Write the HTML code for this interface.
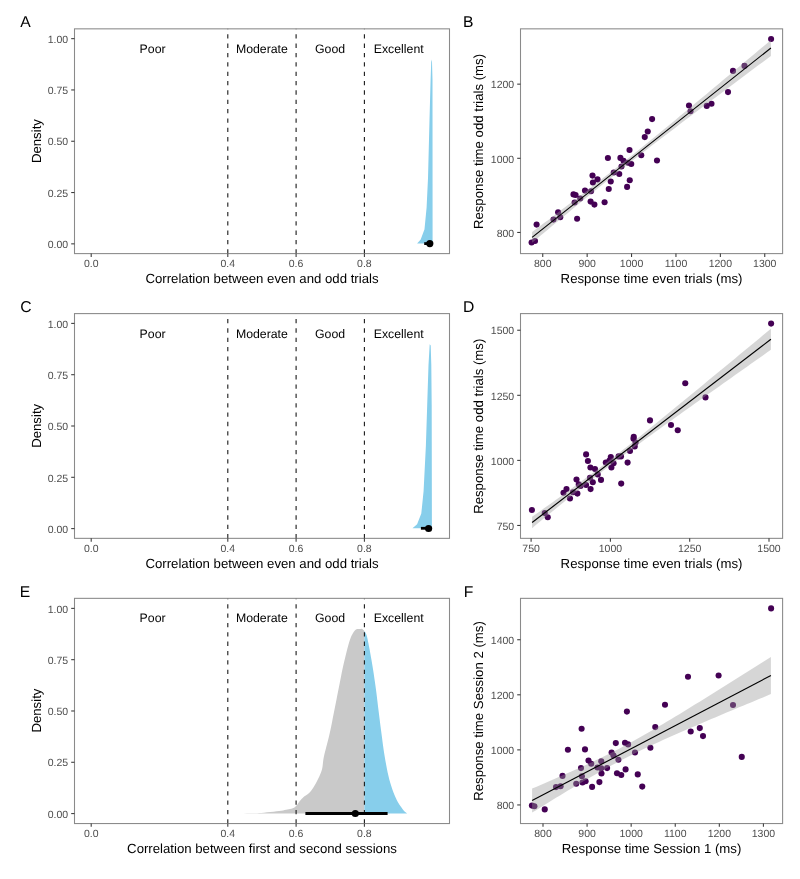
<!DOCTYPE html>
<html><head><meta charset="utf-8"><style>
html,body{margin:0;padding:0;background:#fff;}
svg{display:block;filter:blur(0.35px);}
text{font-family:"Liberation Sans", sans-serif;text-rendering:geometricPrecision;}
</style></head><body>
<svg width="800" height="879" viewBox="0 0 800 879">
<rect width="800" height="879" fill="#fff"/>
<text x="20.30" y="26.70" font-size="15.7" fill="#000" text-anchor="start" >A</text>
<text x="463.10" y="26.80" font-size="15.7" fill="#000" text-anchor="start" >B</text>
<text x="20.20" y="312.00" font-size="15.7" fill="#000" text-anchor="start" >C</text>
<text x="462.90" y="311.60" font-size="15.7" fill="#000" text-anchor="start" >D</text>
<text x="19.80" y="596.90" font-size="15.7" fill="#000" text-anchor="start" >E</text>
<text x="463.80" y="596.60" font-size="15.7" fill="#000" text-anchor="start" >F</text>
<polygon points="417.10,243.40 420.70,239.50 424.50,229.30 426.60,207.50 428.00,178.30 429.50,120.00 430.60,80.00 431.30,59.50 432.00,62.00 432.50,80.00 432.60,243.40" fill="#87ceeb"/>
<line x1="227.80" y1="253.60" x2="227.80" y2="28.85" stroke="#1a1a1a" stroke-width="1.1" stroke-dasharray="4.3 5.05"/>
<line x1="296.10" y1="253.60" x2="296.10" y2="28.85" stroke="#1a1a1a" stroke-width="1.1" stroke-dasharray="4.3 5.05"/>
<line x1="364.40" y1="253.60" x2="364.40" y2="28.85" stroke="#1a1a1a" stroke-width="1.1" stroke-dasharray="4.3 5.05"/>
<line x1="424.2" y1="243.6" x2="429.8" y2="243.6" stroke="#000" stroke-width="2.8"/><circle cx="429.8" cy="243.6" r="3.6" fill="#000"/>
<text x="152.60" y="52.90" font-size="12.3" fill="#000" text-anchor="middle" >Poor</text>
<text x="261.90" y="52.90" font-size="12.3" fill="#000" text-anchor="middle" >Moderate</text>
<text x="330.10" y="52.90" font-size="12.3" fill="#000" text-anchor="middle" >Good</text>
<text x="398.70" y="52.90" font-size="12.3" fill="#000" text-anchor="middle" >Excellent</text>
<rect x="74.5" y="28.85" width="375" height="224.75" fill="none" stroke="#8a8a8a" stroke-width="1.07"/>
<line x1="71.2" y1="243.85" x2="74.5" y2="243.85" stroke="#3a3a3a" stroke-width="1.07"/>
<text x="68.20" y="248.05" font-size="10.5" fill="#4d4d4d" text-anchor="end" >0.00</text>
<line x1="71.2" y1="192.55" x2="74.5" y2="192.55" stroke="#3a3a3a" stroke-width="1.07"/>
<text x="68.20" y="196.75" font-size="10.5" fill="#4d4d4d" text-anchor="end" >0.25</text>
<line x1="71.2" y1="141.25" x2="74.5" y2="141.25" stroke="#3a3a3a" stroke-width="1.07"/>
<text x="68.20" y="145.45" font-size="10.5" fill="#4d4d4d" text-anchor="end" >0.50</text>
<line x1="71.2" y1="89.95" x2="74.5" y2="89.95" stroke="#3a3a3a" stroke-width="1.07"/>
<text x="68.20" y="94.15" font-size="10.5" fill="#4d4d4d" text-anchor="end" >0.75</text>
<line x1="71.2" y1="38.65" x2="74.5" y2="38.65" stroke="#3a3a3a" stroke-width="1.07"/>
<text x="68.20" y="42.85" font-size="10.5" fill="#4d4d4d" text-anchor="end" >1.00</text>
<line x1="91.20" y1="253.60" x2="91.20" y2="256.90" stroke="#3a3a3a" stroke-width="1.07"/>
<text x="91.20" y="267.45" font-size="10.5" fill="#4d4d4d" text-anchor="middle" >0.0</text>
<line x1="227.80" y1="253.60" x2="227.80" y2="256.90" stroke="#3a3a3a" stroke-width="1.07"/>
<text x="227.80" y="267.45" font-size="10.5" fill="#4d4d4d" text-anchor="middle" >0.4</text>
<line x1="296.10" y1="253.60" x2="296.10" y2="256.90" stroke="#3a3a3a" stroke-width="1.07"/>
<text x="296.10" y="267.45" font-size="10.5" fill="#4d4d4d" text-anchor="middle" >0.6</text>
<line x1="364.40" y1="253.60" x2="364.40" y2="256.90" stroke="#3a3a3a" stroke-width="1.07"/>
<text x="364.40" y="267.45" font-size="10.5" fill="#4d4d4d" text-anchor="middle" >0.8</text>
<text x="262.00" y="282.90" font-size="13.2" fill="#000" text-anchor="middle" >Correlation between even and odd trials</text>
<text x="0" y="0" font-size="13.2" text-anchor="middle" transform="translate(40.85 141.10) rotate(-90)">Density</text>
<polygon points="412.50,528.20 417.10,524.20 421.30,513.60 423.60,490.90 425.90,445.50 427.20,405.00 428.50,365.00 429.70,344.20 430.70,345.50 431.30,365.00 431.70,405.00 431.90,528.20" fill="#87ceeb"/>
<line x1="227.80" y1="538.35" x2="227.80" y2="313.60" stroke="#1a1a1a" stroke-width="1.1" stroke-dasharray="4.3 5.05"/>
<line x1="296.10" y1="538.35" x2="296.10" y2="313.60" stroke="#1a1a1a" stroke-width="1.1" stroke-dasharray="4.3 5.05"/>
<line x1="364.40" y1="538.35" x2="364.40" y2="313.60" stroke="#1a1a1a" stroke-width="1.1" stroke-dasharray="4.3 5.05"/>
<line x1="420.9" y1="528.3" x2="428.6" y2="528.3" stroke="#000" stroke-width="2.8"/><circle cx="428.6" cy="528.5" r="3.6" fill="#000"/>
<text x="152.60" y="337.65" font-size="12.3" fill="#000" text-anchor="middle" >Poor</text>
<text x="261.90" y="337.65" font-size="12.3" fill="#000" text-anchor="middle" >Moderate</text>
<text x="330.10" y="337.65" font-size="12.3" fill="#000" text-anchor="middle" >Good</text>
<text x="398.70" y="337.65" font-size="12.3" fill="#000" text-anchor="middle" >Excellent</text>
<rect x="74.5" y="313.60" width="375" height="224.75" fill="none" stroke="#8a8a8a" stroke-width="1.07"/>
<line x1="71.2" y1="528.60" x2="74.5" y2="528.60" stroke="#3a3a3a" stroke-width="1.07"/>
<text x="68.20" y="532.80" font-size="10.5" fill="#4d4d4d" text-anchor="end" >0.00</text>
<line x1="71.2" y1="477.30" x2="74.5" y2="477.30" stroke="#3a3a3a" stroke-width="1.07"/>
<text x="68.20" y="481.50" font-size="10.5" fill="#4d4d4d" text-anchor="end" >0.25</text>
<line x1="71.2" y1="426.00" x2="74.5" y2="426.00" stroke="#3a3a3a" stroke-width="1.07"/>
<text x="68.20" y="430.20" font-size="10.5" fill="#4d4d4d" text-anchor="end" >0.50</text>
<line x1="71.2" y1="374.70" x2="74.5" y2="374.70" stroke="#3a3a3a" stroke-width="1.07"/>
<text x="68.20" y="378.90" font-size="10.5" fill="#4d4d4d" text-anchor="end" >0.75</text>
<line x1="71.2" y1="323.40" x2="74.5" y2="323.40" stroke="#3a3a3a" stroke-width="1.07"/>
<text x="68.20" y="327.60" font-size="10.5" fill="#4d4d4d" text-anchor="end" >1.00</text>
<line x1="91.20" y1="538.35" x2="91.20" y2="541.65" stroke="#3a3a3a" stroke-width="1.07"/>
<text x="91.20" y="552.20" font-size="10.5" fill="#4d4d4d" text-anchor="middle" >0.0</text>
<line x1="227.80" y1="538.35" x2="227.80" y2="541.65" stroke="#3a3a3a" stroke-width="1.07"/>
<text x="227.80" y="552.20" font-size="10.5" fill="#4d4d4d" text-anchor="middle" >0.4</text>
<line x1="296.10" y1="538.35" x2="296.10" y2="541.65" stroke="#3a3a3a" stroke-width="1.07"/>
<text x="296.10" y="552.20" font-size="10.5" fill="#4d4d4d" text-anchor="middle" >0.6</text>
<line x1="364.40" y1="538.35" x2="364.40" y2="541.65" stroke="#3a3a3a" stroke-width="1.07"/>
<text x="364.40" y="552.20" font-size="10.5" fill="#4d4d4d" text-anchor="middle" >0.8</text>
<text x="262.00" y="567.65" font-size="13.2" fill="#000" text-anchor="middle" >Correlation between even and odd trials</text>
<text x="0" y="0" font-size="13.2" text-anchor="middle" transform="translate(40.85 425.85) rotate(-90)">Density</text>
<polygon points="231.00,813.50 233.16,813.48 236.21,813.46 239.79,813.43 243.53,813.39 247.06,813.35 250.00,813.30 252.25,813.26 254.10,813.24 255.72,813.21 257.34,813.15 259.13,813.06 261.30,812.90 263.98,812.67 267.05,812.37 270.30,812.04 273.53,811.68 276.53,811.33 279.10,811.00 281.23,810.70 283.06,810.40 284.68,810.11 286.13,809.82 287.48,809.52 288.80,809.20 290.05,808.91 291.18,808.67 292.21,808.42 293.17,808.11 294.09,807.68 295.00,807.10 295.89,806.29 296.73,805.29 297.53,804.18 298.30,803.04 299.06,801.95 299.80,801.00 300.50,800.20 301.14,799.48 301.76,798.82 302.40,798.17 303.10,797.51 303.90,796.80 304.81,796.09 305.81,795.42 306.87,794.74 307.96,793.98 309.04,793.08 310.10,792.00 311.14,790.71 312.19,789.26 313.24,787.67 314.29,785.99 315.31,784.22 316.30,782.40 317.30,780.51 318.31,778.51 319.31,776.44 320.24,774.31 321.09,772.16 321.80,770.00 322.31,767.93 322.62,765.96 322.84,763.95 323.06,761.80 323.38,759.39 323.90,756.60 324.65,753.34 325.57,749.70 326.59,745.79 327.65,741.75 328.67,737.71 329.60,733.80 330.43,730.00 331.22,726.20 331.98,722.39 332.71,718.59 333.45,714.79 334.20,711.00 334.95,707.21 335.70,703.43 336.45,699.65 337.20,695.87 337.95,692.09 338.70,688.30 339.45,684.50 340.19,680.70 340.93,676.90 341.68,673.10 342.47,669.30 343.30,665.50 344.21,661.55 345.20,657.41 346.22,653.27 347.22,649.33 348.16,645.78 349.00,642.80 349.71,640.48 350.33,638.68 350.89,637.26 351.41,636.10 351.94,635.06 352.50,634.00 353.08,632.95 353.67,632.03 354.25,631.23 354.83,630.54 355.42,629.97 356.00,629.50 356.59,629.18 357.18,629.01 357.78,628.95 358.36,628.96 358.94,628.99 359.50,629.00 360.04,628.96 360.55,628.89 361.06,628.84 361.56,628.87 362.07,629.00 362.60,629.30 363.16,629.74 363.75,630.29 364.35,630.95 364.40,631.02 364.40,813.50" fill="#c9c9c9"/><polygon points="364.40,813.50 364.40,631.02 364.94,631.73 365.49,632.65 366.00,633.70 366.43,634.79 366.78,635.88 367.11,637.11 367.44,638.59 367.83,640.44 368.30,642.80 368.89,645.80 369.56,649.36 370.28,653.29 371.02,657.42 371.74,661.55 372.40,665.50 373.01,669.30 373.61,673.10 374.18,676.90 374.74,680.70 375.28,684.50 375.80,688.30 376.30,692.09 376.77,695.87 377.23,699.65 377.68,703.43 378.13,707.21 378.60,711.00 379.07,714.79 379.55,718.59 380.03,722.39 380.51,726.20 381.00,730.00 381.50,733.80 382.00,737.60 382.49,741.40 382.99,745.20 383.52,749.00 384.08,752.80 384.70,756.60 385.37,760.45 386.07,764.37 386.81,768.29 387.59,772.14 388.42,775.87 389.30,779.40 390.24,782.78 391.25,786.06 392.31,789.21 393.39,792.21 394.50,795.01 395.60,797.60 396.74,799.97 397.94,802.16 399.16,804.16 400.36,805.96 401.48,807.58 402.50,809.00 403.44,810.20 404.34,811.18 405.18,811.96 405.92,812.59 406.54,813.09 407.00,813.50" fill="#87ceeb"/>
<line x1="227.80" y1="823.55" x2="227.80" y2="598.35" stroke="#1a1a1a" stroke-width="1.1" stroke-dasharray="4.3 5.05"/>
<line x1="296.10" y1="823.55" x2="296.10" y2="598.35" stroke="#1a1a1a" stroke-width="1.1" stroke-dasharray="4.3 5.05"/>
<line x1="364.40" y1="823.55" x2="364.40" y2="598.35" stroke="#1a1a1a" stroke-width="1.1" stroke-dasharray="4.3 5.05"/>
<line x1="305.4" y1="813.5" x2="387.6" y2="813.5" stroke="#000" stroke-width="2.8"/><circle cx="355.3" cy="813.5" r="3.6" fill="#000"/>
<text x="152.60" y="622.40" font-size="12.3" fill="#000" text-anchor="middle" >Poor</text>
<text x="261.90" y="622.40" font-size="12.3" fill="#000" text-anchor="middle" >Moderate</text>
<text x="330.10" y="622.40" font-size="12.3" fill="#000" text-anchor="middle" >Good</text>
<text x="398.70" y="622.40" font-size="12.3" fill="#000" text-anchor="middle" >Excellent</text>
<rect x="74.5" y="598.35" width="375" height="225.20" fill="none" stroke="#8a8a8a" stroke-width="1.07"/>
<line x1="71.2" y1="813.58" x2="74.5" y2="813.58" stroke="#3a3a3a" stroke-width="1.07"/>
<text x="68.20" y="817.78" font-size="10.5" fill="#4d4d4d" text-anchor="end" >0.00</text>
<line x1="71.2" y1="762.28" x2="74.5" y2="762.28" stroke="#3a3a3a" stroke-width="1.07"/>
<text x="68.20" y="766.48" font-size="10.5" fill="#4d4d4d" text-anchor="end" >0.25</text>
<line x1="71.2" y1="710.98" x2="74.5" y2="710.98" stroke="#3a3a3a" stroke-width="1.07"/>
<text x="68.20" y="715.18" font-size="10.5" fill="#4d4d4d" text-anchor="end" >0.50</text>
<line x1="71.2" y1="659.68" x2="74.5" y2="659.68" stroke="#3a3a3a" stroke-width="1.07"/>
<text x="68.20" y="663.88" font-size="10.5" fill="#4d4d4d" text-anchor="end" >0.75</text>
<line x1="71.2" y1="608.38" x2="74.5" y2="608.38" stroke="#3a3a3a" stroke-width="1.07"/>
<text x="68.20" y="612.58" font-size="10.5" fill="#4d4d4d" text-anchor="end" >1.00</text>
<line x1="91.20" y1="823.55" x2="91.20" y2="826.85" stroke="#3a3a3a" stroke-width="1.07"/>
<text x="91.20" y="837.40" font-size="10.5" fill="#4d4d4d" text-anchor="middle" >0.0</text>
<line x1="227.80" y1="823.55" x2="227.80" y2="826.85" stroke="#3a3a3a" stroke-width="1.07"/>
<text x="227.80" y="837.40" font-size="10.5" fill="#4d4d4d" text-anchor="middle" >0.4</text>
<line x1="296.10" y1="823.55" x2="296.10" y2="826.85" stroke="#3a3a3a" stroke-width="1.07"/>
<text x="296.10" y="837.40" font-size="10.5" fill="#4d4d4d" text-anchor="middle" >0.6</text>
<line x1="364.40" y1="823.55" x2="364.40" y2="826.85" stroke="#3a3a3a" stroke-width="1.07"/>
<text x="364.40" y="837.40" font-size="10.5" fill="#4d4d4d" text-anchor="middle" >0.8</text>
<text x="262.00" y="852.85" font-size="13.2" fill="#000" text-anchor="middle" >Correlation between first and second sessions</text>
<text x="0" y="0" font-size="13.2" text-anchor="middle" transform="translate(40.85 710.60) rotate(-90)">Density</text>
<circle cx="531.6" cy="242.5" r="3.05" fill="#440154"/><circle cx="535" cy="241" r="3.05" fill="#440154"/><circle cx="536.6" cy="224.6" r="3.05" fill="#440154"/><circle cx="553.5" cy="219.6" r="3.05" fill="#440154"/><circle cx="558.1" cy="212.25" r="3.05" fill="#440154"/><circle cx="560.25" cy="217.25" r="3.05" fill="#440154"/><circle cx="577.1" cy="218.75" r="3.05" fill="#440154"/><circle cx="573.5" cy="194.4" r="3.05" fill="#440154"/><circle cx="575.6" cy="195" r="3.05" fill="#440154"/><circle cx="574.6" cy="202.5" r="3.05" fill="#440154"/><circle cx="580.25" cy="198.5" r="3.05" fill="#440154"/><circle cx="585" cy="190.6" r="3.05" fill="#440154"/><circle cx="591" cy="191.25" r="3.05" fill="#440154"/><circle cx="590.6" cy="201.6" r="3.05" fill="#440154"/><circle cx="594.4" cy="204.6" r="3.05" fill="#440154"/><circle cx="592.5" cy="175.6" r="3.05" fill="#440154"/><circle cx="592.9" cy="182.5" r="3.05" fill="#440154"/><circle cx="597.5" cy="179.4" r="3.05" fill="#440154"/><circle cx="604.6" cy="202.25" r="3.05" fill="#440154"/><circle cx="608.75" cy="189" r="3.05" fill="#440154"/><circle cx="610.75" cy="181.5" r="3.05" fill="#440154"/><circle cx="613.75" cy="172.5" r="3.05" fill="#440154"/><circle cx="619.25" cy="174" r="3.05" fill="#440154"/><circle cx="607.9" cy="158" r="3.05" fill="#440154"/><circle cx="620.4" cy="157.9" r="3.05" fill="#440154"/><circle cx="623.5" cy="160.75" r="3.05" fill="#440154"/><circle cx="629.5" cy="150" r="3.05" fill="#440154"/><circle cx="641.25" cy="155.2" r="3.05" fill="#440154"/><circle cx="657" cy="160.5" r="3.05" fill="#440154"/><circle cx="628.1" cy="162.8" r="3.05" fill="#440154"/><circle cx="631.25" cy="164" r="3.05" fill="#440154"/><circle cx="621.5" cy="166.5" r="3.05" fill="#440154"/><circle cx="629.75" cy="180.25" r="3.05" fill="#440154"/><circle cx="627.1" cy="186.9" r="3.05" fill="#440154"/><circle cx="644.75" cy="137.1" r="3.05" fill="#440154"/><circle cx="647.75" cy="131.5" r="3.05" fill="#440154"/><circle cx="652.1" cy="119.1" r="3.05" fill="#440154"/><circle cx="689" cy="105.5" r="3.05" fill="#440154"/><circle cx="690.5" cy="111.3" r="3.05" fill="#440154"/><circle cx="706.75" cy="105.9" r="3.05" fill="#440154"/><circle cx="711.5" cy="103.75" r="3.05" fill="#440154"/><circle cx="728" cy="92.1" r="3.05" fill="#440154"/><circle cx="733" cy="70.9" r="3.05" fill="#440154"/><circle cx="744.5" cy="65.9" r="3.05" fill="#440154"/><circle cx="771.1" cy="39" r="3.05" fill="#440154"/><polygon points="532.10,232.10 536.08,229.11 540.06,226.12 544.04,223.12 548.02,220.13 552.00,217.13 555.98,214.12 559.96,211.12 563.94,208.10 567.92,205.09 571.90,202.07 575.88,199.04 579.86,196.01 583.84,192.96 587.82,189.92 591.80,186.86 595.78,183.79 599.76,180.71 603.74,177.62 607.72,174.52 611.70,171.41 615.68,168.28 619.66,165.14 623.64,161.98 627.62,158.81 631.60,155.63 635.58,152.44 639.56,149.23 643.54,146.00 647.52,142.77 651.50,139.53 655.48,136.27 659.46,133.01 663.44,129.74 667.42,126.46 671.40,123.18 675.38,119.89 679.36,116.59 683.34,113.29 687.32,109.99 691.30,106.68 695.28,103.36 699.26,100.05 703.24,96.73 707.22,93.41 711.20,90.08 715.18,86.76 719.16,83.43 723.14,80.10 727.12,76.77 731.10,73.44 735.08,70.10 739.06,66.77 743.04,63.43 747.02,60.09 751.00,56.76 754.98,53.42 758.96,50.08 762.94,46.74 766.92,43.39 770.90,40.05 770.90,55.95 766.92,58.92 762.94,61.89 758.96,64.86 754.98,67.84 751.00,70.81 747.02,73.79 743.04,76.76 739.06,79.74 735.08,82.72 731.10,85.70 727.12,88.68 723.14,91.66 719.16,94.64 715.18,97.63 711.20,100.62 707.22,103.61 703.24,106.60 699.26,109.59 695.28,112.59 691.30,115.59 687.32,118.59 683.34,121.60 679.36,124.62 675.38,127.63 671.40,130.66 667.42,133.68 663.44,136.72 659.46,139.76 655.48,142.81 651.50,145.87 647.52,148.94 643.54,152.02 639.56,155.11 635.58,158.22 631.60,161.33 627.62,164.47 623.64,167.61 619.66,170.77 615.68,173.94 611.70,177.13 607.72,180.32 603.74,183.54 599.76,186.76 595.78,190.00 591.80,193.24 587.82,196.50 583.84,199.76 579.86,203.03 575.88,206.31 571.90,209.60 567.92,212.89 563.94,216.19 559.96,219.49 555.98,222.80 552.00,226.11 548.02,229.42 544.04,232.74 540.06,236.06 536.08,239.38 532.10,242.70" fill="#999999" fill-opacity="0.4"/><line x1="532.1" y1="237.4" x2="770.9" y2="48.0" stroke="#000" stroke-width="1.15"/>
<rect x="520.5" y="28.85" width="262.1" height="224.75" fill="none" stroke="#8a8a8a" stroke-width="1.07"/>
<line x1="517.2" y1="232.45" x2="520.5" y2="232.45" stroke="#3a3a3a" stroke-width="1.07"/>
<text x="514.20" y="236.65" font-size="10.5" fill="#4d4d4d" text-anchor="end" >800</text>
<line x1="517.2" y1="158.30" x2="520.5" y2="158.30" stroke="#3a3a3a" stroke-width="1.07"/>
<text x="514.20" y="162.50" font-size="10.5" fill="#4d4d4d" text-anchor="end" >1000</text>
<line x1="517.2" y1="84.15" x2="520.5" y2="84.15" stroke="#3a3a3a" stroke-width="1.07"/>
<text x="514.20" y="88.35" font-size="10.5" fill="#4d4d4d" text-anchor="end" >1200</text>
<line x1="542.75" y1="253.60" x2="542.75" y2="256.90" stroke="#3a3a3a" stroke-width="1.07"/>
<text x="542.75" y="267.45" font-size="10.5" fill="#4d4d4d" text-anchor="middle" >800</text>
<line x1="587.15" y1="253.60" x2="587.15" y2="256.90" stroke="#3a3a3a" stroke-width="1.07"/>
<text x="587.15" y="267.45" font-size="10.5" fill="#4d4d4d" text-anchor="middle" >900</text>
<line x1="631.55" y1="253.60" x2="631.55" y2="256.90" stroke="#3a3a3a" stroke-width="1.07"/>
<text x="631.55" y="267.45" font-size="10.5" fill="#4d4d4d" text-anchor="middle" >1000</text>
<line x1="675.95" y1="253.60" x2="675.95" y2="256.90" stroke="#3a3a3a" stroke-width="1.07"/>
<text x="675.95" y="267.45" font-size="10.5" fill="#4d4d4d" text-anchor="middle" >1100</text>
<line x1="720.35" y1="253.60" x2="720.35" y2="256.90" stroke="#3a3a3a" stroke-width="1.07"/>
<text x="720.35" y="267.45" font-size="10.5" fill="#4d4d4d" text-anchor="middle" >1200</text>
<line x1="764.75" y1="253.60" x2="764.75" y2="256.90" stroke="#3a3a3a" stroke-width="1.07"/>
<text x="764.75" y="267.45" font-size="10.5" fill="#4d4d4d" text-anchor="middle" >1300</text>
<text x="651.50" y="282.90" font-size="13.2" fill="#000" text-anchor="middle" >Response time even trials (ms)</text>
<text x="0" y="0" font-size="13.2" text-anchor="middle" transform="translate(483.1 141.50) rotate(-90)">Response time odd trials (ms)</text>
<circle cx="531.9" cy="510" r="3.05" fill="#440154"/><circle cx="544.75" cy="513.1" r="3.05" fill="#440154"/><circle cx="547.75" cy="517.25" r="3.05" fill="#440154"/><circle cx="563.5" cy="492.8" r="3.05" fill="#440154"/><circle cx="566.5" cy="489" r="3.05" fill="#440154"/><circle cx="570" cy="498.5" r="3.05" fill="#440154"/><circle cx="573" cy="492.2" r="3.05" fill="#440154"/><circle cx="577.4" cy="493.6" r="3.05" fill="#440154"/><circle cx="576.5" cy="479.6" r="3.05" fill="#440154"/><circle cx="578.75" cy="484.4" r="3.05" fill="#440154"/><circle cx="580.5" cy="486" r="3.05" fill="#440154"/><circle cx="586.1" cy="454.4" r="3.05" fill="#440154"/><circle cx="587.9" cy="461" r="3.05" fill="#440154"/><circle cx="590.4" cy="467.5" r="3.05" fill="#440154"/><circle cx="595" cy="469" r="3.05" fill="#440154"/><circle cx="597.7" cy="474.4" r="3.05" fill="#440154"/><circle cx="586.1" cy="485" r="3.05" fill="#440154"/><circle cx="590" cy="477.8" r="3.05" fill="#440154"/><circle cx="592.8" cy="482.3" r="3.05" fill="#440154"/><circle cx="590.6" cy="489.1" r="3.05" fill="#440154"/><circle cx="601" cy="479.9" r="3.05" fill="#440154"/><circle cx="605.8" cy="462.6" r="3.05" fill="#440154"/><circle cx="610.8" cy="457" r="3.05" fill="#440154"/><circle cx="613.6" cy="463.2" r="3.05" fill="#440154"/><circle cx="611.4" cy="467.5" r="3.05" fill="#440154"/><circle cx="618.6" cy="456.4" r="3.05" fill="#440154"/><circle cx="621.2" cy="483.6" r="3.05" fill="#440154"/><circle cx="621" cy="456.4" r="3.05" fill="#440154"/><circle cx="627.6" cy="462.6" r="3.05" fill="#440154"/><circle cx="630" cy="451" r="3.05" fill="#440154"/><circle cx="634.7" cy="446.4" r="3.05" fill="#440154"/><circle cx="635.6" cy="442.5" r="3.05" fill="#440154"/><circle cx="633.75" cy="436.9" r="3.05" fill="#440154"/><circle cx="633.5" cy="438.75" r="3.05" fill="#440154"/><circle cx="650" cy="420.4" r="3.05" fill="#440154"/><circle cx="671" cy="425" r="3.05" fill="#440154"/><circle cx="677.75" cy="430.25" r="3.05" fill="#440154"/><circle cx="685.25" cy="383.25" r="3.05" fill="#440154"/><circle cx="705.5" cy="397.4" r="3.05" fill="#440154"/><circle cx="771.1" cy="323.6" r="3.05" fill="#440154"/><circle cx="609.5" cy="460.5" r="3.05" fill="#440154"/><polygon points="532.10,516.87 536.08,514.03 540.06,511.19 544.04,508.35 548.02,505.50 552.00,502.64 555.98,499.78 559.96,496.91 563.94,494.04 567.92,491.16 571.90,488.27 575.88,485.37 579.86,482.46 583.84,479.54 587.82,476.60 591.80,473.65 595.78,470.68 599.76,467.69 603.74,464.68 607.72,461.65 611.70,458.59 615.68,455.52 619.66,452.42 623.64,449.30 627.62,446.16 631.60,443.01 635.58,439.83 639.56,436.65 643.54,433.45 647.52,430.24 651.50,427.02 655.48,423.79 659.46,420.56 663.44,417.31 667.42,414.06 671.40,410.81 675.38,407.55 679.36,404.29 683.34,401.02 687.32,397.76 691.30,394.48 695.28,391.21 699.26,387.93 703.24,384.65 707.22,381.37 711.20,378.09 715.18,374.81 719.16,371.53 723.14,368.24 727.12,364.95 731.10,361.66 735.08,358.38 739.06,355.09 743.04,351.80 747.02,348.50 751.00,345.21 754.98,341.92 758.96,338.63 762.94,335.33 766.92,332.04 770.90,328.74 770.90,349.76 766.92,352.57 762.94,355.38 758.96,358.20 754.98,361.01 751.00,363.83 747.02,366.65 743.04,369.46 739.06,372.28 735.08,375.10 731.10,377.92 727.12,380.74 723.14,383.56 719.16,386.38 715.18,389.21 711.20,392.03 707.22,394.86 703.24,397.69 699.26,400.52 695.28,403.35 691.30,406.18 687.32,409.02 683.34,411.86 679.36,414.70 675.38,417.55 671.40,420.40 667.42,423.25 663.44,426.11 659.46,428.98 655.48,431.85 651.50,434.73 647.52,437.62 643.54,440.52 639.56,443.43 635.58,446.35 631.60,449.29 627.62,452.24 623.64,455.21 619.66,458.20 615.68,461.21 611.70,464.24 607.72,467.30 603.74,470.37 599.76,473.47 595.78,476.59 591.80,479.72 587.82,482.88 583.84,486.05 579.86,489.24 575.88,492.43 571.90,495.64 567.92,498.86 563.94,502.09 559.96,505.33 555.98,508.57 552.00,511.82 548.02,515.07 544.04,518.33 540.06,521.59 536.08,524.86 532.10,528.13" fill="#999999" fill-opacity="0.4"/><line x1="532.1" y1="522.5" x2="770.9" y2="339.25" stroke="#000" stroke-width="1.15"/>
<rect x="520.5" y="313.60" width="262.1" height="224.75" fill="none" stroke="#8a8a8a" stroke-width="1.07"/>
<line x1="517.2" y1="525.45" x2="520.5" y2="525.45" stroke="#3a3a3a" stroke-width="1.07"/>
<text x="514.20" y="529.65" font-size="10.5" fill="#4d4d4d" text-anchor="end" >750</text>
<line x1="517.2" y1="460.38" x2="520.5" y2="460.38" stroke="#3a3a3a" stroke-width="1.07"/>
<text x="514.20" y="464.58" font-size="10.5" fill="#4d4d4d" text-anchor="end" >1000</text>
<line x1="517.2" y1="395.30" x2="520.5" y2="395.30" stroke="#3a3a3a" stroke-width="1.07"/>
<text x="514.20" y="399.50" font-size="10.5" fill="#4d4d4d" text-anchor="end" >1250</text>
<line x1="517.2" y1="330.23" x2="520.5" y2="330.23" stroke="#3a3a3a" stroke-width="1.07"/>
<text x="514.20" y="334.43" font-size="10.5" fill="#4d4d4d" text-anchor="end" >1500</text>
<line x1="531.10" y1="538.35" x2="531.10" y2="541.65" stroke="#3a3a3a" stroke-width="1.07"/>
<text x="531.10" y="552.20" font-size="10.5" fill="#4d4d4d" text-anchor="middle" >750</text>
<line x1="610.40" y1="538.35" x2="610.40" y2="541.65" stroke="#3a3a3a" stroke-width="1.07"/>
<text x="610.40" y="552.20" font-size="10.5" fill="#4d4d4d" text-anchor="middle" >1000</text>
<line x1="689.70" y1="538.35" x2="689.70" y2="541.65" stroke="#3a3a3a" stroke-width="1.07"/>
<text x="689.70" y="552.20" font-size="10.5" fill="#4d4d4d" text-anchor="middle" >1250</text>
<line x1="769.00" y1="538.35" x2="769.00" y2="541.65" stroke="#3a3a3a" stroke-width="1.07"/>
<text x="769.00" y="552.20" font-size="10.5" fill="#4d4d4d" text-anchor="middle" >1500</text>
<text x="651.50" y="567.65" font-size="13.2" fill="#000" text-anchor="middle" >Response time even trials (ms)</text>
<text x="0" y="0" font-size="13.2" text-anchor="middle" transform="translate(483.1 426.25) rotate(-90)">Response time odd trials (ms)</text>
<circle cx="531.9" cy="805.6" r="3.05" fill="#440154"/><circle cx="534.4" cy="806.25" r="3.05" fill="#440154"/><circle cx="544.75" cy="809.4" r="3.05" fill="#440154"/><circle cx="556" cy="787.1" r="3.05" fill="#440154"/><circle cx="560.6" cy="786.25" r="3.05" fill="#440154"/><circle cx="562.5" cy="775.9" r="3.05" fill="#440154"/><circle cx="567.9" cy="749.75" r="3.05" fill="#440154"/><circle cx="581.6" cy="728.75" r="3.05" fill="#440154"/><circle cx="585" cy="749.4" r="3.05" fill="#440154"/><circle cx="576.25" cy="783.75" r="3.05" fill="#440154"/><circle cx="581" cy="768.1" r="3.05" fill="#440154"/><circle cx="581.9" cy="776.25" r="3.05" fill="#440154"/><circle cx="582.5" cy="782.5" r="3.05" fill="#440154"/><circle cx="585.6" cy="781.25" r="3.05" fill="#440154"/><circle cx="592.1" cy="786.9" r="3.05" fill="#440154"/><circle cx="588.5" cy="760.6" r="3.05" fill="#440154"/><circle cx="591.25" cy="763.75" r="3.05" fill="#440154"/><circle cx="597.5" cy="767.5" r="3.05" fill="#440154"/><circle cx="601.25" cy="761.25" r="3.05" fill="#440154"/><circle cx="601.5" cy="773.5" r="3.05" fill="#440154"/><circle cx="599.4" cy="782.1" r="3.05" fill="#440154"/><circle cx="607.1" cy="768.1" r="3.05" fill="#440154"/><circle cx="611.6" cy="752.5" r="3.05" fill="#440154"/><circle cx="613.5" cy="755.6" r="3.05" fill="#440154"/><circle cx="615.8" cy="743.1" r="3.05" fill="#440154"/><circle cx="618.4" cy="759.8" r="3.05" fill="#440154"/><circle cx="617" cy="773.3" r="3.05" fill="#440154"/><circle cx="621.25" cy="775" r="3.05" fill="#440154"/><circle cx="625" cy="742.75" r="3.05" fill="#440154"/><circle cx="628.1" cy="744.4" r="3.05" fill="#440154"/><circle cx="626.9" cy="711.6" r="3.05" fill="#440154"/><circle cx="635" cy="752.5" r="3.05" fill="#440154"/><circle cx="625.6" cy="769.4" r="3.05" fill="#440154"/><circle cx="637.75" cy="774.4" r="3.05" fill="#440154"/><circle cx="642.25" cy="786.6" r="3.05" fill="#440154"/><circle cx="650.4" cy="747.75" r="3.05" fill="#440154"/><circle cx="655.25" cy="727.1" r="3.05" fill="#440154"/><circle cx="665" cy="704.75" r="3.05" fill="#440154"/><circle cx="690.7" cy="731.5" r="3.05" fill="#440154"/><circle cx="699.8" cy="728.1" r="3.05" fill="#440154"/><circle cx="703" cy="736.1" r="3.05" fill="#440154"/><circle cx="688" cy="676.75" r="3.05" fill="#440154"/><circle cx="718.6" cy="675.5" r="3.05" fill="#440154"/><circle cx="733" cy="705" r="3.05" fill="#440154"/><circle cx="741.75" cy="756.9" r="3.05" fill="#440154"/><circle cx="771.1" cy="608.4" r="3.05" fill="#440154"/><circle cx="601.2" cy="768.2" r="3.05" fill="#440154"/><polygon points="532.10,788.59 536.08,786.90 540.06,785.20 544.04,783.49 548.02,781.78 552.00,780.06 555.98,778.33 559.96,776.60 563.94,774.85 567.92,773.09 571.90,771.32 575.88,769.54 579.86,767.74 583.84,765.92 587.82,764.08 591.80,762.22 595.78,760.34 599.76,758.43 603.74,756.50 607.72,754.53 611.70,752.53 615.68,750.50 619.66,748.44 623.64,746.34 627.62,744.21 631.60,742.04 635.58,739.85 639.56,737.62 643.54,735.36 647.52,733.08 651.50,730.78 655.48,728.45 659.46,726.10 663.44,723.74 667.42,721.36 671.40,718.96 675.38,716.55 679.36,714.13 683.34,711.70 687.32,709.26 691.30,706.81 695.28,704.35 699.26,701.89 703.24,699.42 707.22,696.95 711.20,694.46 715.18,691.98 719.16,689.49 723.14,687.00 727.12,684.50 731.10,682.00 735.08,679.50 739.06,677.00 743.04,674.49 747.02,671.98 751.00,669.47 754.98,666.96 758.96,664.44 762.94,661.93 766.92,659.41 770.90,656.89 770.90,694.11 766.92,695.76 762.94,697.41 758.96,699.07 754.98,700.72 751.00,702.38 747.02,704.04 743.04,705.70 739.06,707.36 735.08,709.03 731.10,710.70 727.12,712.37 723.14,714.04 719.16,715.72 715.18,717.40 711.20,719.09 707.22,720.77 703.24,722.47 699.26,724.17 695.28,725.88 691.30,727.59 687.32,729.31 683.34,731.04 679.36,732.78 675.38,734.53 671.40,736.29 667.42,738.06 663.44,739.85 659.46,741.66 655.48,743.48 651.50,745.32 647.52,747.19 643.54,749.08 639.56,750.99 635.58,752.93 631.60,754.91 627.62,756.91 623.64,758.95 619.66,761.02 615.68,763.13 611.70,765.27 607.72,767.44 603.74,769.64 599.76,771.88 595.78,774.14 591.80,776.43 587.82,778.74 583.84,781.07 579.86,783.42 575.88,785.79 571.90,788.18 567.92,790.58 563.94,792.99 559.96,795.41 555.98,797.85 552.00,800.29 548.02,802.74 544.04,805.20 540.06,807.66 536.08,810.13 532.10,812.61" fill="#999999" fill-opacity="0.4"/><line x1="532.1" y1="800.6" x2="770.9" y2="675.5" stroke="#000" stroke-width="1.15"/>
<rect x="520.5" y="598.35" width="262.1" height="225.20" fill="none" stroke="#8a8a8a" stroke-width="1.07"/>
<line x1="517.2" y1="804.95" x2="520.5" y2="804.95" stroke="#3a3a3a" stroke-width="1.07"/>
<text x="514.20" y="809.15" font-size="10.5" fill="#4d4d4d" text-anchor="end" >800</text>
<line x1="517.2" y1="749.88" x2="520.5" y2="749.88" stroke="#3a3a3a" stroke-width="1.07"/>
<text x="514.20" y="754.08" font-size="10.5" fill="#4d4d4d" text-anchor="end" >1000</text>
<line x1="517.2" y1="694.81" x2="520.5" y2="694.81" stroke="#3a3a3a" stroke-width="1.07"/>
<text x="514.20" y="699.01" font-size="10.5" fill="#4d4d4d" text-anchor="end" >1200</text>
<line x1="517.2" y1="639.74" x2="520.5" y2="639.74" stroke="#3a3a3a" stroke-width="1.07"/>
<text x="514.20" y="643.94" font-size="10.5" fill="#4d4d4d" text-anchor="end" >1400</text>
<line x1="543.00" y1="823.55" x2="543.00" y2="826.85" stroke="#3a3a3a" stroke-width="1.07"/>
<text x="543.00" y="837.40" font-size="10.5" fill="#4d4d4d" text-anchor="middle" >800</text>
<line x1="587.08" y1="823.55" x2="587.08" y2="826.85" stroke="#3a3a3a" stroke-width="1.07"/>
<text x="587.08" y="837.40" font-size="10.5" fill="#4d4d4d" text-anchor="middle" >900</text>
<line x1="631.16" y1="823.55" x2="631.16" y2="826.85" stroke="#3a3a3a" stroke-width="1.07"/>
<text x="631.16" y="837.40" font-size="10.5" fill="#4d4d4d" text-anchor="middle" >1000</text>
<line x1="675.24" y1="823.55" x2="675.24" y2="826.85" stroke="#3a3a3a" stroke-width="1.07"/>
<text x="675.24" y="837.40" font-size="10.5" fill="#4d4d4d" text-anchor="middle" >1100</text>
<line x1="719.32" y1="823.55" x2="719.32" y2="826.85" stroke="#3a3a3a" stroke-width="1.07"/>
<text x="719.32" y="837.40" font-size="10.5" fill="#4d4d4d" text-anchor="middle" >1200</text>
<line x1="763.40" y1="823.55" x2="763.40" y2="826.85" stroke="#3a3a3a" stroke-width="1.07"/>
<text x="763.40" y="837.40" font-size="10.5" fill="#4d4d4d" text-anchor="middle" >1300</text>
<text x="651.50" y="852.85" font-size="13.2" fill="#000" text-anchor="middle" >Response time Session 1 (ms)</text>
<text x="0" y="0" font-size="13.2" text-anchor="middle" transform="translate(483.1 711.00) rotate(-90)">Response time Session 2 (ms)</text>
</svg>
</body></html>
